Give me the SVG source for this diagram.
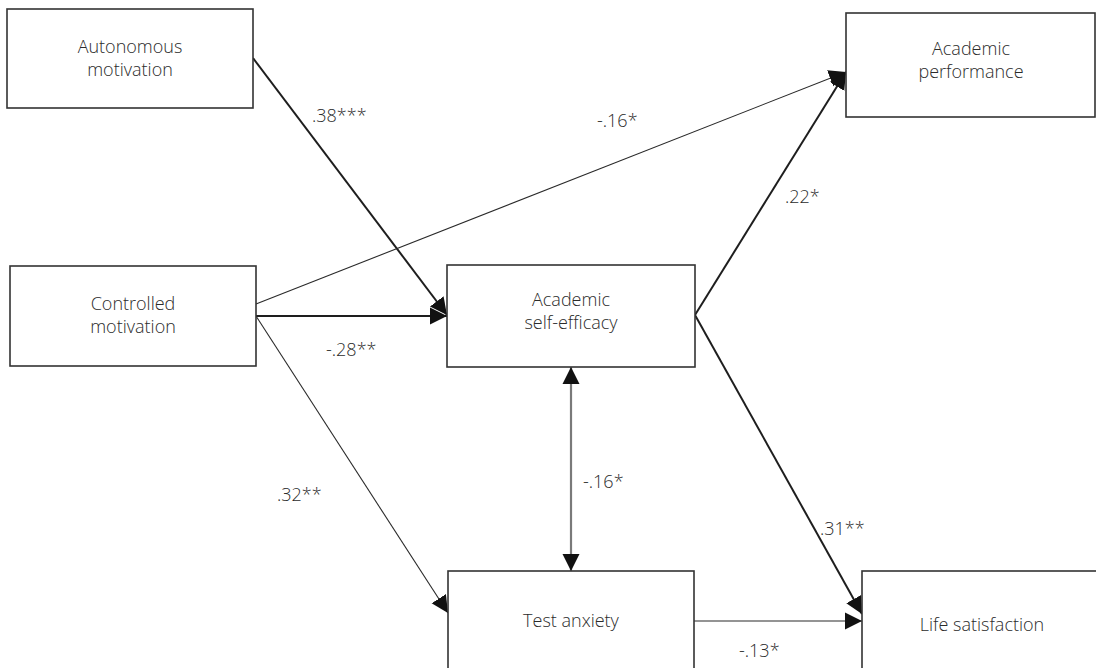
<svg xmlns="http://www.w3.org/2000/svg" width="1096" height="668" viewBox="0 0 1096 668">
<style>
.box{fill:#fff;stroke:#333;stroke-width:1.6}
.t{font-family:"Open Sans","Liberation Sans",sans-serif;font-size:18px;font-weight:300;fill:#2b2b2b;text-anchor:middle}
.l{font-family:"Open Sans","Liberation Sans",sans-serif;font-size:18px;font-weight:300;fill:#2b2b2b}
.thick{stroke:#1e1e1e;stroke-width:2;fill:none}
.thin{stroke:#2a2a2a;stroke-width:1.1;fill:none}
.gray{stroke:#7a7a7a;stroke-width:2.2;fill:none}
</style>
<defs>
<marker id="ah" markerUnits="userSpaceOnUse" markerWidth="18" markerHeight="18" refX="17" refY="8.5" orient="auto-start-reverse" viewBox="0 0 18 17">
<path d="M0,0 L17,8.5 L0,17 z" fill="#111"/>
</marker>
</defs>
<rect width="1096" height="668" fill="#fff"/>
<g id="connectors">
<line class="thick" x1="253" y1="58" x2="447" y2="315" marker-end="url(#ah)"/>
<line class="thick" x1="256" y1="316" x2="447" y2="316" marker-end="url(#ah)"/>
<line class="thin" x1="256" y1="304" x2="846" y2="72" marker-end="url(#ah)"/>
<line class="thin" x1="256" y1="316" x2="448" y2="613" marker-end="url(#ah)"/>
<line class="thick" x1="695" y1="315" x2="846" y2="72" marker-end="url(#ah)"/>
<line class="thick" x1="695" y1="315" x2="862" y2="614" marker-end="url(#ah)"/>
<line class="thin" x1="694" y1="621" x2="862" y2="621" marker-end="url(#ah)"/>
<line class="gray" x1="571" y1="367" x2="571" y2="571" marker-start="url(#ah)" marker-end="url(#ah)"/>
</g>
<g id="labels">
<text class="l" x="312" y="122">.38***</text>
<text class="l" x="597" y="127">-.16*</text>
<text class="l" x="785" y="203">.22*</text>
<text class="l" x="326" y="356">-.28**</text>
<text class="l" x="277" y="501">.32**</text>
<text class="l" x="583" y="488">-.16*</text>
<text class="l" x="820" y="535">.31**</text>
<text class="l" x="739" y="657">-.13*</text>
</g>
<g id="autonomous">
<rect class="box" x="7" y="9" width="246" height="99"/>
<text class="t" x="130" y="53">Autonomous</text>
<text class="t" x="130" y="76">motivation</text>
</g>
<g id="performance">
<rect class="box" x="846" y="13" width="249" height="104"/>
<text class="t" x="971" y="55">Academic</text>
<text class="t" x="971" y="78">performance</text>
</g>
<g id="controlled">
<rect class="box" x="10" y="266" width="246" height="100"/>
<text class="t" x="133" y="310">Controlled</text>
<text class="t" x="133" y="333">motivation</text>
</g>
<g id="selfefficacy">
<rect class="box" x="447" y="265" width="248" height="102"/>
<text class="t" x="571" y="306">Academic</text>
<text class="t" x="571" y="329">self-efficacy</text>
</g>
<g id="anxiety">
<rect class="box" x="448" y="571" width="246" height="110"/>
<text class="t" x="571" y="627">Test anxiety</text>
</g>
<g id="satisfaction">
<rect class="box" x="862" y="571" width="240" height="110"/>
<text class="t" x="982" y="631">Life satisfaction</text>
</g>
</svg>
